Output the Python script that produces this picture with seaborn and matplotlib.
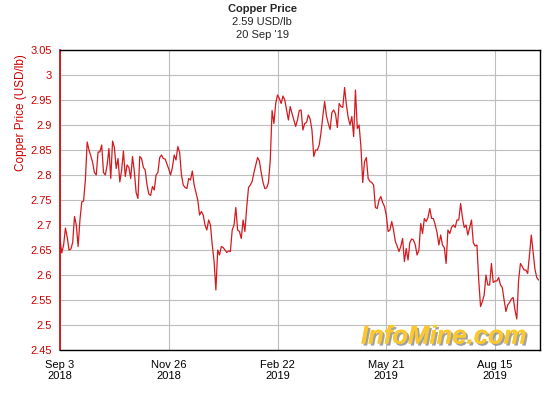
import numpy as np
import pandas as pd
import seaborn as sns
import matplotlib
matplotlib.use("Agg")
import matplotlib.pyplot as plt
import matplotlib.patheffects as pe

# Daily copper price (USD/lb), one value per trading session, Sep 3 2018 .. Sep 20 2019
price = [
    2.67, 2.644, 2.66, 2.694, 2.675, 2.65, 2.652, 2.665, 2.717, 2.70,
    2.657, 2.71, 2.746, 2.748, 2.79, 2.866, 2.85, 2.838, 2.825, 2.805,
    2.80, 2.846, 2.846, 2.86, 2.805, 2.80, 2.82, 2.853, 2.793, 2.868,
    2.855, 2.813, 2.833, 2.786, 2.81, 2.848, 2.797, 2.82, 2.815, 2.793,
    2.837, 2.807, 2.765, 2.753, 2.837, 2.833, 2.815, 2.81, 2.78, 2.762,
    2.759, 2.777, 2.77, 2.80, 2.805,
    2.835, 2.84, 2.833, 2.832, 2.822, 2.812, 2.80, 2.815, 2.84, 2.83,
    2.857, 2.845, 2.80, 2.78, 2.775, 2.773, 2.793, 2.79, 2.808, 2.78,
    2.765, 2.75, 2.72, 2.727, 2.72, 2.70, 2.69, 2.71, 2.70, 2.66,
    2.627, 2.57, 2.65, 2.64, 2.657, 2.655, 2.65, 2.645, 2.648, 2.647,
    2.69, 2.70, 2.735, 2.69, 2.687, 2.673, 2.71, 2.687, 2.735, 2.775,
    2.78, 2.787, 2.805,
    2.82, 2.835, 2.828, 2.805, 2.785, 2.773, 2.774, 2.785, 2.83, 2.929,
    2.903, 2.943, 2.96, 2.953, 2.943, 2.958, 2.95, 2.93, 2.91, 2.937,
    2.923, 2.91, 2.897, 2.91, 2.929, 2.93, 2.89, 2.903, 2.905, 2.92,
    2.912, 2.89, 2.837, 2.85, 2.85, 2.86, 2.885, 2.918, 2.947, 2.918,
    2.903, 2.891, 2.925, 2.93, 2.922, 2.895, 2.943, 2.937, 2.935, 2.975,
    2.94, 2.915, 2.90,
    2.917, 2.877, 2.97, 2.893, 2.90, 2.857, 2.785, 2.827, 2.835, 2.793,
    2.787, 2.785, 2.78, 2.735, 2.733, 2.75, 2.757, 2.745, 2.737, 2.72,
    2.687, 2.69, 2.707, 2.69, 2.667, 2.658, 2.647, 2.657, 2.673, 2.627,
    2.653, 2.63, 2.665, 2.672, 2.67, 2.66, 2.64, 2.65, 2.703, 2.683,
    2.713, 2.707, 2.715, 2.733, 2.713, 2.713, 2.70, 2.685, 2.66, 2.68,
    2.66, 2.655, 2.623, 2.69,
    2.683, 2.695, 2.70, 2.695, 2.71, 2.71, 2.743, 2.715, 2.695, 2.70,
    2.68, 2.695, 2.71, 2.665, 2.658, 2.66, 2.59, 2.537, 2.547, 2.56,
    2.60, 2.58, 2.58, 2.623, 2.585, 2.588, 2.588, 2.595, 2.58, 2.575,
    2.55, 2.527, 2.54, 2.545, 2.552, 2.555, 2.53, 2.512, 2.59, 2.623,
    2.617, 2.61, 2.61, 2.603, 2.64, 2.68, 2.645, 2.612, 2.595, 2.59,
]

tick_sessions = [0, 60, 120, 180, 240]
tick_labels = ["Sep 3\n2018", "Nov 26\n2018", "Feb 22\n2019", "May 21\n2019", "Aug 15\n2019"]
y_ticks = [2.45, 2.5, 2.55, 2.6, 2.65, 2.7, 2.75, 2.8, 2.85, 2.9, 2.95, 3.0, 3.05]

df = pd.DataFrame({"session": np.arange(len(price)), "price": price})

sns.set_theme(style="white")
plt.rcParams["font.family"] = ["Liberation Sans", "DejaVu Sans"]

red = "#cc0000"
fig = plt.figure(figsize=(5.6, 4.0), dpi=100)
ax = fig.add_axes([60 / 560, 50 / 400, 480 / 560, 300 / 400])

sns.lineplot(data=df, x="session", y="price", color="#d41a1f", linewidth=0.9, ax=ax)

ax.set_xlim(0, 264.8)
ax.set_ylim(2.45, 3.05)
ax.set_xticks(tick_sessions)
ax.set_xticklabels(tick_labels, fontsize=8, color="black", linespacing=1.15)
ax.set_yticks(y_ticks)
ax.set_yticklabels([f"{v:g}" for v in y_ticks], fontsize=8, color=red)
ax.tick_params(axis="y", direction="out", length=4, width=1, pad=2)
ax.tick_params(axis="x", direction="out", length=4, width=1, color="black", pad=3)
for t in ax.yaxis.get_ticklines():
    t.set_color(red)

ax.grid(True, color="#bdbdbd", linewidth=0.8)
ax.set_axisbelow(True)
for s in ["top", "right", "bottom"]:
    ax.spines[s].set_color("black")
    ax.spines[s].set_linewidth(1)
ax.spines["left"].set_color(red)
ax.spines["left"].set_linewidth(1.2)

ax.set_xlabel("")
ax.set_ylabel("Copper Price (USD/lb)", color=red, fontsize=8.5)
ax.yaxis.set_label_coords(-0.068, 0.79)

fig.text(0.468, 0.99, "Copper Price", ha="center", va="top", fontsize=8, fontweight="bold")
fig.text(0.468, 0.958, "2.59 USD/lb", ha="center", va="top", fontsize=8)
fig.text(0.468, 0.926, "20 Sep '19", ha="center", va="top", fontsize=8)

ax.text(0.80, 0.045, "InfoMine.com", transform=ax.transAxes, ha="center", va="center",
        fontsize=18.5, fontweight="bold", fontstyle="italic", color="#fbc72a",
        path_effects=[pe.withSimplePatchShadow(offset=(1.5, -1.5), shadow_rgbFace="#8a8a8a", alpha=0.8),
                      pe.Normal()])

fig.savefig("out.png", dpi=100, facecolor="white")
